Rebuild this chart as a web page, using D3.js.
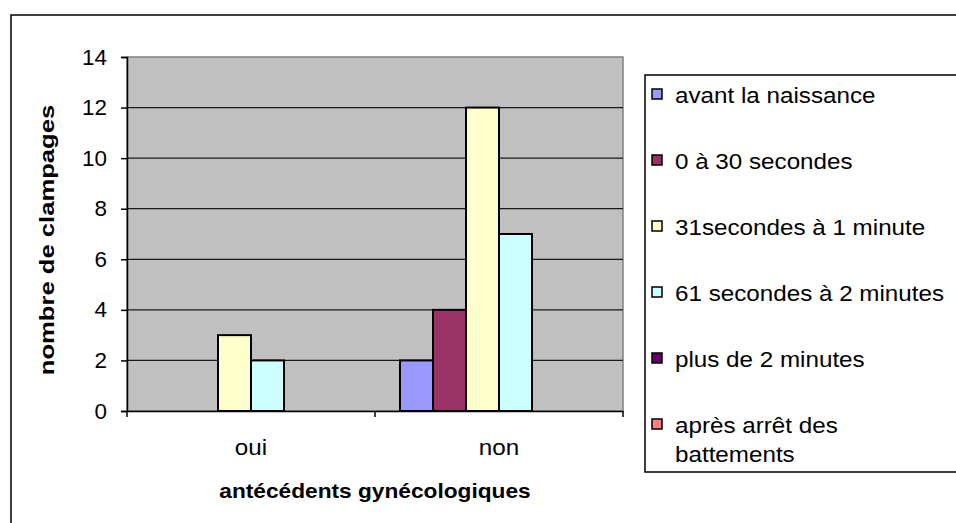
<!DOCTYPE html>
<html>
<head>
<meta charset="utf-8">
<script src="https://cdn.jsdelivr.net/npm/d3@7"></script>
<style>
  body { margin: 0; background: #fff; }
  text { font-family: "Liberation Sans", Arial, sans-serif; fill: #000; }
</style>
</head>
<body>
<svg width="956" height="523"></svg>
<script>
const categories = ['oui', 'non'];
const seriesNames = [
    'avant la naissance',
    '0 à 30 secondes',
    '31secondes à 1 minute',
    '61 secondes à 2 minutes',
    'plus de 2 minutes',
    'après arrêt des battements'
];
const seriesColors = ['#9999FF', '#993366', '#FFFFCC', '#CCFFFF', '#660066', '#FF8080'];
// one array per series, values for [oui, non]
const avantNaissance = [0, 2];
const zeroA30s = [0, 4];
const s31A1min = [3, 12];
const s61A2min = [2, 7];
const plusDe2min = [0, 0];
const apresArret = [0, 0];
const seriesValues = [avantNaissance, zeroA30s, s31A1min, s61A2min, plusDe2min, apresArret];
const yTicks = [0, 2, 4, 6, 8, 10, 12, 14];

const svg = d3.select('svg');

// stretch text horizontally, the source renders glyphs wider than Arial
function stretch(sel, k) {
    sel.each(function () {
        const len = this.getComputedTextLength();
        d3.select(this)
            .attr('textLength', len * k)
            .attr('lengthAdjust', 'spacingAndGlyphs');
    });
}

// outer frame
svg.append('rect')
    .attr('x', 11).attr('y', 15)
    .attr('width', 1000).attr('height', 600)
    .attr('fill', 'none')
    .attr('stroke', '#000')
    .attr('stroke-width', 1.5);

const plot = { left: 127, right: 623, top: 57, bottom: 411 };

const x0 = d3.scaleBand()
    .domain(categories)
    .range([plot.left, plot.right]);

const x1 = d3.scaleBand()
    .domain(d3.range(seriesNames.length))
    .range([0, x0.bandwidth()])
    .paddingInner(0)
    .paddingOuter(0.758);

const y = d3.scaleLinear()
    .domain([0, 14])
    .range([plot.bottom, plot.top]);

// plot background
svg.append('rect')
    .attr('x', plot.left).attr('y', plot.top)
    .attr('width', plot.right - plot.left)
    .attr('height', plot.bottom - plot.top)
    .attr('fill', '#C0C0C0')
    .attr('stroke', '#808080')
    .attr('stroke-width', 1.5);

// gridlines
svg.append('g')
    .selectAll('line')
    .data(yTicks.filter(d => d > 0 && d < 14))
    .join('line')
    .attr('x1', plot.left).attr('x2', plot.right)
    .attr('y1', d => y(d)).attr('y2', d => y(d))
    .attr('stroke', '#1a1a1a')
    .attr('stroke-width', 1.2);

// bars
const groups = svg.append('g')
    .selectAll('g')
    .data(categories)
    .join('g')
    .attr('transform', d => `translate(${x0(d)},0)`);

groups.selectAll('rect')
    .data((c, ci) => seriesValues.map((vals, si) => ({ si, v: vals[ci] })).filter(d => d.v > 0))
    .join('rect')
    .attr('x', d => x1(d.si))
    .attr('y', d => y(d.v))
    .attr('width', x1.bandwidth())
    .attr('height', d => y(0) - y(d.v))
    .attr('fill', d => seriesColors[d.si])
    .attr('stroke', '#000')
    .attr('stroke-width', 2);

// y axis
const yAxis = svg.append('g')
    .attr('transform', `translate(${plot.left},0)`)
    .call(d3.axisLeft(y).tickValues(yTicks).tickSize(6).tickPadding(14).tickFormat(d3.format('d')));
yAxis.select('.domain').attr('stroke', '#000').attr('stroke-width', 1.5);
yAxis.selectAll('.tick line').attr('stroke', '#000').attr('stroke-width', 1.5);
yAxis.selectAll('.tick text')
    .attr('font-size', 22)
    .attr('font-family', '"Liberation Sans", Arial, sans-serif')
    .attr('fill', '#000')
    .call(stretch, 1.02);

// x axis
const xAxis = svg.append('g')
    .attr('transform', `translate(0,${plot.bottom})`)
    .call(d3.axisBottom(x0).tickSize(0).tickPadding(28));
xAxis.select('.domain').attr('stroke', '#000').attr('stroke-width', 1.5);
xAxis.selectAll('.tick text')
    .attr('font-size', 22)
    .attr('font-family', '"Liberation Sans", Arial, sans-serif')
    .attr('fill', '#000')
    .call(stretch, 1.1);

// category boundary ticks
svg.append('g')
    .selectAll('line')
    .data([plot.left, ...categories.map(c => x0(c) + x0.bandwidth())])
    .join('line')
    .attr('x1', d => d).attr('x2', d => d)
    .attr('y1', plot.bottom).attr('y2', plot.bottom + 6)
    .attr('stroke', '#000')
    .attr('stroke-width', 1.5);

// axis titles
svg.append('text')
    .attr('x', (plot.left + plot.right) / 2)
    .attr('y', 498)
    .attr('text-anchor', 'middle')
    .attr('font-size', 21)
    .attr('font-weight', 'bold')
    .text('antécédents gynécologiques')
    .call(stretch, 1.08);

svg.append('text')
    .attr('transform', `translate(54, ${(plot.top + plot.bottom) / 2 + 6}) rotate(-90)`)
    .attr('text-anchor', 'middle')
    .attr('font-size', 21)
    .attr('font-weight', 'bold')
    .text('nombre de clampages')
    .call(stretch, 1.22);

// legend
const legend = svg.append('g');
legend.append('rect')
    .attr('x', 645).attr('y', 75)
    .attr('width', 400).attr('height', 397)
    .attr('fill', '#fff')
    .attr('stroke', '#000')
    .attr('stroke-width', 1.5);

const legendY = d3.scalePoint()
    .domain(d3.range(seriesNames.length))
    .range([96, 426]);

const items = legend.selectAll('g.item')
    .data(seriesNames)
    .join('g')
    .attr('class', 'item')
    .attr('transform', (d, i) => `translate(652,${legendY(i)})`);

items.append('rect')
    .attr('x', 0).attr('y', -7)
    .attr('width', 10).attr('height', 10)
    .attr('fill', (d, i) => seriesColors[i])
    .attr('stroke', '#000')
    .attr('stroke-width', 1.5);

items.each(function (name) {
    const g = d3.select(this);
    // wrap long labels to fit the legend box
    const words = name.split(' ');
    const lines = name.length > 24 ? [words.slice(0, 3).join(' '), words.slice(3).join(' ')] : [name];
    lines.forEach((line, li) => {
        g.append('text')
            .attr('x', 23)
            .attr('y', 7 + li * 29)
            .attr('font-size', 22)
            .text(line)
            .call(stretch, 1.1);
    });
});
</script>
</body>
</html>
